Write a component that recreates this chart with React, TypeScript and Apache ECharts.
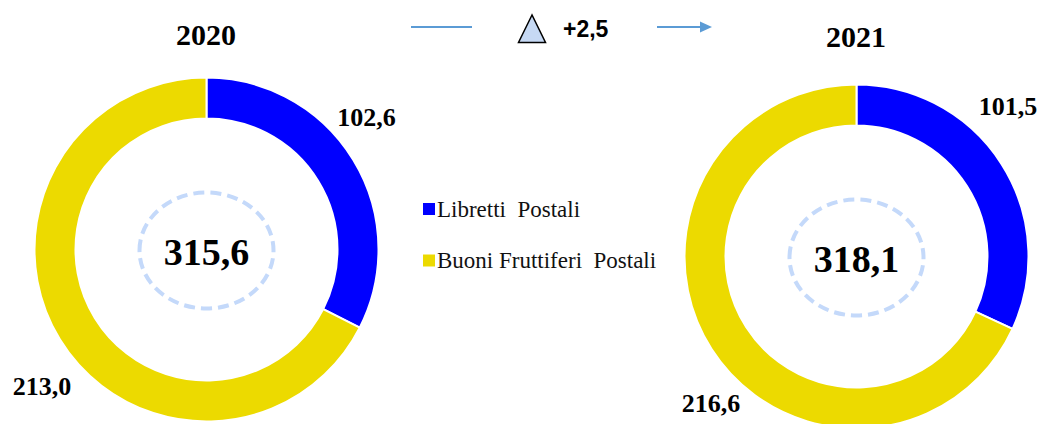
import React, { useEffect, useRef } from "react";
import * as echarts from "echarts";

const categories = ["Libretti  Postali", "Buoni Fruttiferi  Postali"];
const years = ["2020", "2021"];
const libretti = [102.6, 101.5];
const buoni = [213.0, 216.6];

const COLORS = ["#0000ff", "#ecda00"];
const SERIF = "'Liberation Serif', 'DejaVu Serif', serif";
const SANS = "'Liberation Sans', Arial, sans-serif";

// layout (pixel geometry of each donut)
const CENTERS: [number, number][] = [
  [206.5, 249.5],
  [856.5, 256.5],
];
// label anchor offsets from each donut centre: [blue, yellow]
const LABEL_OFFSETS: [number, number][][] = [
  [[160, -132], [-164.5, 136.5]],
  [[151.5, -150.5], [-145.5, 146.5]],
];

const fmt = (v: number) => v.toFixed(1).replace(".", ",");

export default function App() {
  const ref = useRef<HTMLDivElement>(null);
  useEffect(() => {
    if (!ref.current) return;
    const chart = echarts.init(ref.current, undefined, { renderer: "svg" });
    const totals = years.map((_, i) => libretti[i] + buoni[i]);
    const delta = totals[1] - totals[0];

    const series = years.map((y, i) => ({
      type: "pie",
      name: y,
      center: CENTERS[i],
      radius: [131, 172],
      startAngle: 90,
      clockwise: true,
      avoidLabelOverlap: false,
      itemStyle: { borderColor: "#fff", borderWidth: 2 },
      label: {
        show: true,
        position: "outside",
        formatter: (p: any) => fmt(p.value),
        fontFamily: SERIF,
        fontWeight: "bold",
        fontSize: 26,
        color: "#000",
      },
      labelLine: { show: false },
      labelLayout: (p: any) => {
        const off = LABEL_OFFSETS[i][p.dataIndex];
        return {
          x: CENTERS[i][0] + off[0],
          y: CENTERS[i][1] + off[1],
          align: "center",
          verticalAlign: "middle",
        };
      },
      emphasis: { disabled: true },
      data: [
        { name: categories[0], value: libretti[i], itemStyle: { color: COLORS[0] } },
        { name: categories[1], value: buoni[i], itemStyle: { color: COLORS[1] } },
      ],
    }));

    const graphics: any[] = [];
    years.forEach((_, i) => {
      graphics.push({
        type: "ellipse",
        shape: { cx: CENTERS[i][0], cy: CENTERS[i][1] + 1, rx: 67, ry: 58 },
        style: { fill: "none", stroke: "#c4d9fa", lineWidth: 4, lineDash: [11, 6] },
      });
      graphics.push({
        type: "text",
        x: CENTERS[i][0],
        y: CENTERS[i][1] + 2,
        style: {
          text: fmt(totals[i]),
          font: `bold 38px ${SERIF}`,
          fill: "#000",
          align: "center",
          verticalAlign: "middle",
        },
      });
      graphics.push({
        type: "text",
        x: CENTERS[i][0] - 0.5,
        y: i === 0 ? 34 : 36,
        style: {
          text: years[i],
          font: `bold 30px ${SERIF}`,
          fill: "#000",
          align: "center",
          verticalAlign: "middle",
        },
      });
    });
    graphics.push(
      {
        type: "line",
        shape: { x1: 411, y1: 27, x2: 472, y2: 27 },
        style: { stroke: "#5b9bd5", lineWidth: 2 },
      },
      {
        type: "polygon",
        shape: { points: [[532, 15], [518.5, 42.5], [545.5, 42.5]] },
        style: { fill: "#c6d9f4", stroke: "#000", lineWidth: 1.5 },
      },
      {
        type: "text",
        x: 563,
        y: 29,
        style: {
          text: (delta >= 0 ? "+" : "") + fmt(delta),
          font: `bold 23px ${SANS}`,
          fill: "#000",
          align: "left",
          verticalAlign: "middle",
        },
      },
      {
        type: "line",
        shape: { x1: 657, y1: 27, x2: 702, y2: 27 },
        style: { stroke: "#5b9bd5", lineWidth: 2 },
      },
      {
        type: "polygon",
        shape: { points: [[700, 21.5], [712, 27], [700, 32.5]] },
        style: { fill: "#5b9bd5", stroke: "none" },
      }
    );

    chart.setOption({
      animation: false,
      backgroundColor: "#fff",
      legend: {
        orient: "vertical",
        left: 421,
        top: 197.5,
        padding: 0,
        icon: "rect",
        itemWidth: 14,
        itemHeight: 14,
        itemGap: 28.5,
        selectedMode: false,
        data: categories,
        textStyle: {
          fontFamily: SERIF,
          fontSize: 23,
          lineHeight: 20,
          color: "#111",
          padding: [0, 0, 0, -4],
        },
      },
      series,
      graphic: { elements: graphics },
    });
    return () => chart.dispose();
  }, []);
  return (
    <div
      ref={ref}
      style={{ position: "fixed", left: 0, top: 0, width: 1040, height: 424 }}
    />
  );
}
